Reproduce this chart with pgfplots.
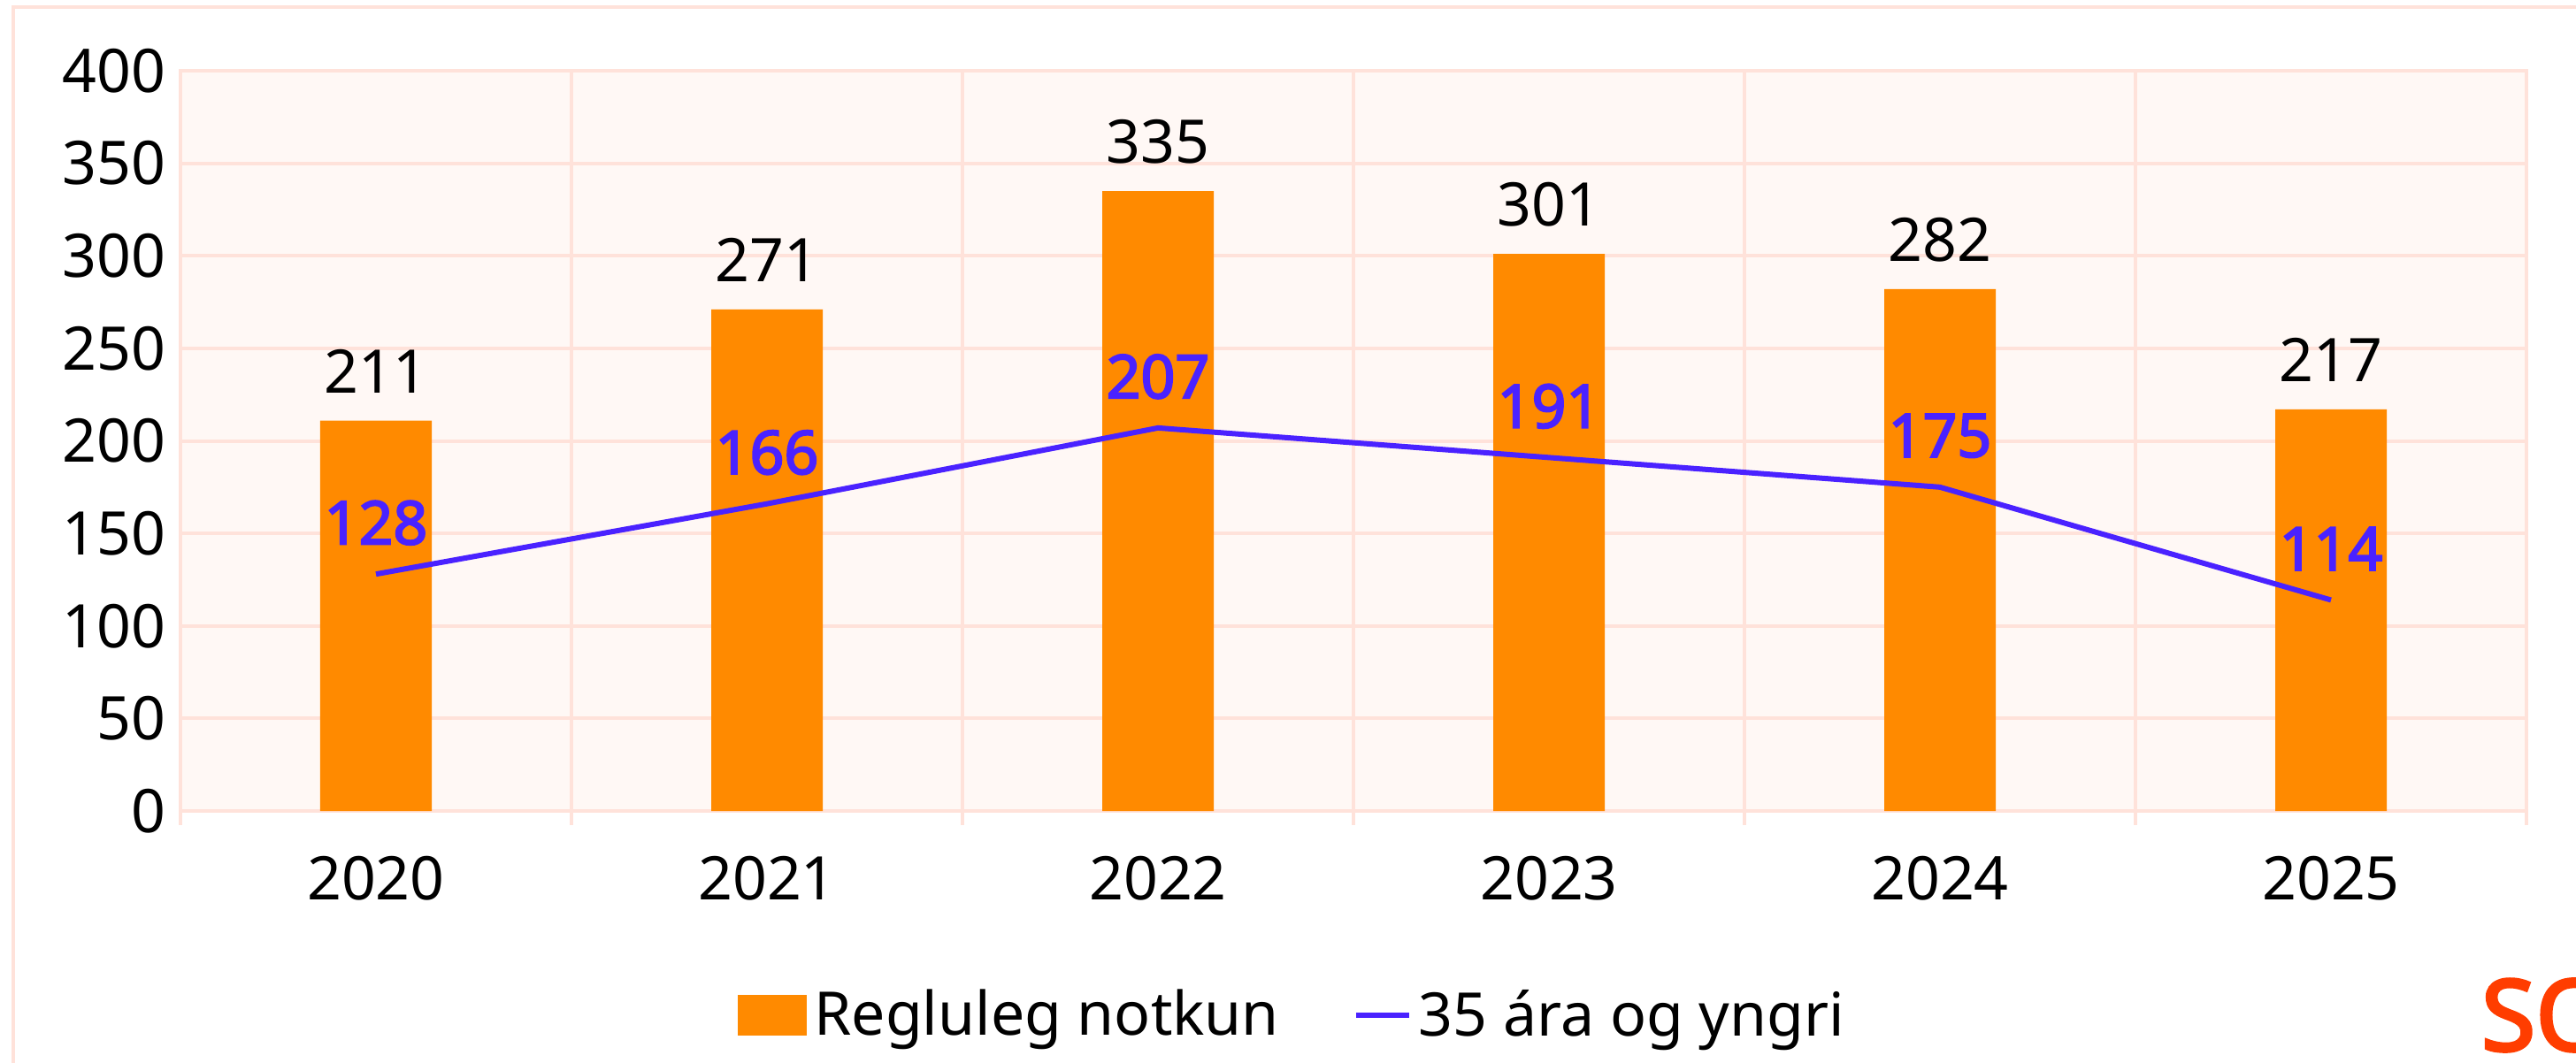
\documentclass[border=0pt]{standalone}
\usepackage{pgfplots}
\pgfplotsset{compat=1.18}
\usepackage{fontspec}
\setmainfont{Noto Sans}
\newfontfamily\boldfont{Noto Sans}[FakeBold=3]

\definecolor{barorange}{HTML}{FF8A00}
\definecolor{lineblue}{HTML}{4A22FF}
\definecolor{gridpink}{HTML}{FFE2DA}
\definecolor{bgpink}{HTML}{FFF8F5}
\definecolor{logored}{HTML}{FF3D00}

\newcommand{\lblfont}{\fontsize{17}{20}\selectfont}

\begin{document}
\begin{tikzpicture}
\useasboundingbox (0,0) rectangle (728pt,-300.25pt);
\clip (0,0) rectangle (728pt,-300.25pt);
% outer frame, runs off the right and bottom edges
\draw[gridpink, line width=1pt] (3.75pt,-2pt) rectangle (760pt,-320pt);

\begin{axis}[
	at={(51pt,-229.25pt)}, anchor=south west,
	scale only axis, width=663pt, height=209.25pt,
	xmin=-0.5, xmax=5.5, ymin=0, ymax=400,
	axis background/.style={fill=bgpink},
	axis line style={gridpink, line width=1pt},
	xtick={0,...,5},
	xticklabels={2020,2021,2022,2023,2024,2025},
	minor xtick={-0.5,0.5,1.5,2.5,3.5,4.5,5.5},
	xminorgrids, ymajorgrids,
	ytick={0,50,...,400},
	grid style={gridpink, line width=1pt},
	minor grid style={gridpink, line width=1pt},
	tick pos=left, tick align=outside,
	major tick length=0pt, minor tick length=4pt,
	tick style={gridpink, line width=1pt},
	/pgf/number format/assume math mode=true,
	ticklabel style={font=\lblfont},
	xticklabel style={anchor=center, yshift=-19pt},
	yticklabel style={anchor=east, inner sep=0pt, xshift=-4pt},
	legend style={at={(0.475,-0.276)}, anchor=center, draw=none, fill=none,
		font=\lblfont, legend columns=2,
		/tikz/every even column/.append style={column sep=19pt}},
	legend cell align=left,
]
\addplot[ybar, bar width=31.5pt, fill=barorange, draw=none,
	nodes near coords,
	nodes near coords style={font=\lblfont, text=black, anchor=center, yshift=14pt},
	legend image code/.code={\fill[barorange] (0pt,-5.8pt) rectangle (19.5pt,5.8pt);}]
	coordinates {(0,211) (1,271) (2,335) (3,301) (4,282) (5,217)};
\addlegendentry{Regluleg notkun}

\addplot[sharp plot, lineblue, line width=1.5pt, mark=none,
	nodes near coords,
	nodes near coords style={font=\boldfont\lblfont, text=lineblue, anchor=center, yshift=14.5pt},
	legend image code/.code={\draw[lineblue, line width=1.5pt] (0pt,0pt) -- (15pt,0pt);}]
	coordinates {(0,128) (1,166) (2,207) (3,191) (4,175) (5,114)};
\addlegendentry{35 ára og yngri}
\end{axis}

\node[anchor=base west, inner sep=0pt, text=logored,
	font=\boldfont\fontsize{28}{30}\selectfont] at (701pt,-297pt) {SO};
\end{tikzpicture}
\end{document}
